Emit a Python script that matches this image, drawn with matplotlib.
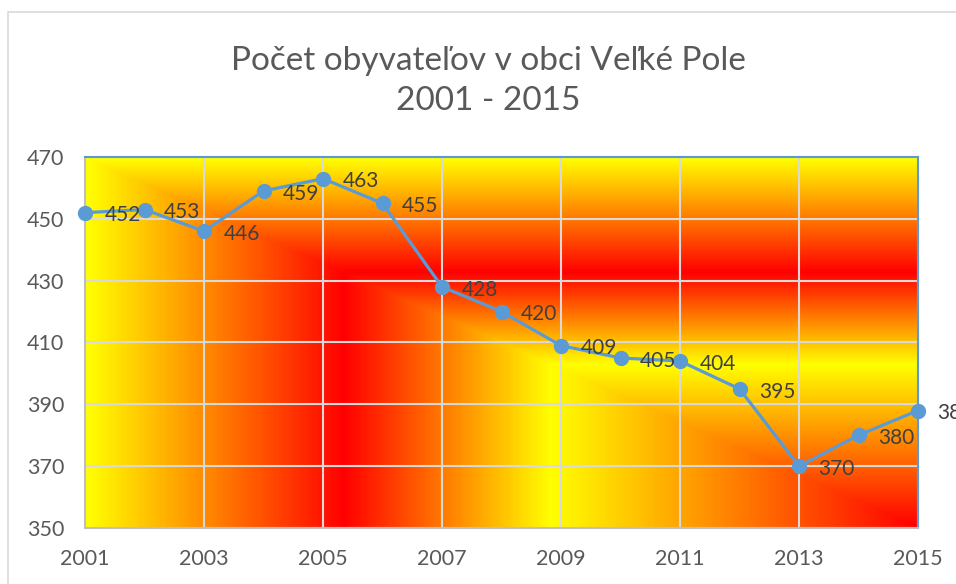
import numpy as np
import matplotlib.pyplot as plt
from matplotlib.colors import LinearSegmentedColormap
from matplotlib.patches import Rectangle

years = [2001, 2002, 2003, 2004, 2005, 2006, 2007, 2008, 2009, 2010, 2011, 2012, 2013, 2014, 2015]
population = [452, 453, 446, 459, 463, 455, 428, 420, 409, 405, 404, 395, 370, 380, 388]
title = "Počet obyvateľov v obci Veľké Pole\n2001 - 2015"

plt.rcParams['font.family'] = ['Lato', 'DejaVu Sans']

fig = plt.figure(figsize=(9.56, 5.84), dpi=100)
ax = fig.add_axes([85/956, 1-528/584, 833/956, 371/584])

# rectangular gradient fill from the bottom-right corner
fire = LinearSegmentedColormap.from_list(
    "fire", [(0, "#ff0000"), (0.44, "#ffff00"), (0.69, "#ff0000"), (1, "#ffff00")])
gx, gy = np.meshgrid(np.linspace(0, 1, 600), np.linspace(0, 1, 400))
d = np.maximum(1 - gx, gy)
ax.imshow(d, cmap=fire, vmin=0, vmax=1, origin="lower", aspect="auto",
          extent=(2001, 2015, 350, 470), zorder=0, interpolation="bilinear")

ax.plot(years, population, color="#5b9bd5", lw=2.3, marker="o", ms=10, zorder=3, clip_on=False)
for x, y in zip(years, population):
    ax.annotate(str(y), (x, y), xytext=(14, -2), textcoords="offset points",
                ha="left", va="center", fontsize=15, color="#404040", zorder=4,
                annotation_clip=False)

ax.set_xlim(2001, 2015)
ax.set_ylim(350, 470)
ax.set_xticks(range(2001, 2016, 2))
ax.set_yticks(range(350, 471, 20))
ax.set_axisbelow(True)
ax.grid(True, color="#d9d9d9", lw=1.5)
ax.tick_params(length=0, labelsize=15.5, labelcolor="#595959")
ax.tick_params(axis="y", pad=15)
ax.tick_params(axis="x", pad=15)
for s in ["left", "bottom"]:
    ax.spines[s].set_color("#bfbfbf")
    ax.spines[s].set_linewidth(1.5)
for s in ["top", "right"]:
    ax.spines[s].set_color("#5b9bd5")
    ax.spines[s].set_linewidth(1.5)

fig.text(488/956, 1-81/584, title, ha="center", va="center", fontsize=24,
         color="#595959", linespacing=1.4)

fig.patches.append(Rectangle((8/956, -0.1), 1.2, 1.1 - 12/584, transform=fig.transFigure,
                             fill=False, edgecolor="#d9d9d9", lw=1.2))

fig.savefig("out.png", dpi=100)
